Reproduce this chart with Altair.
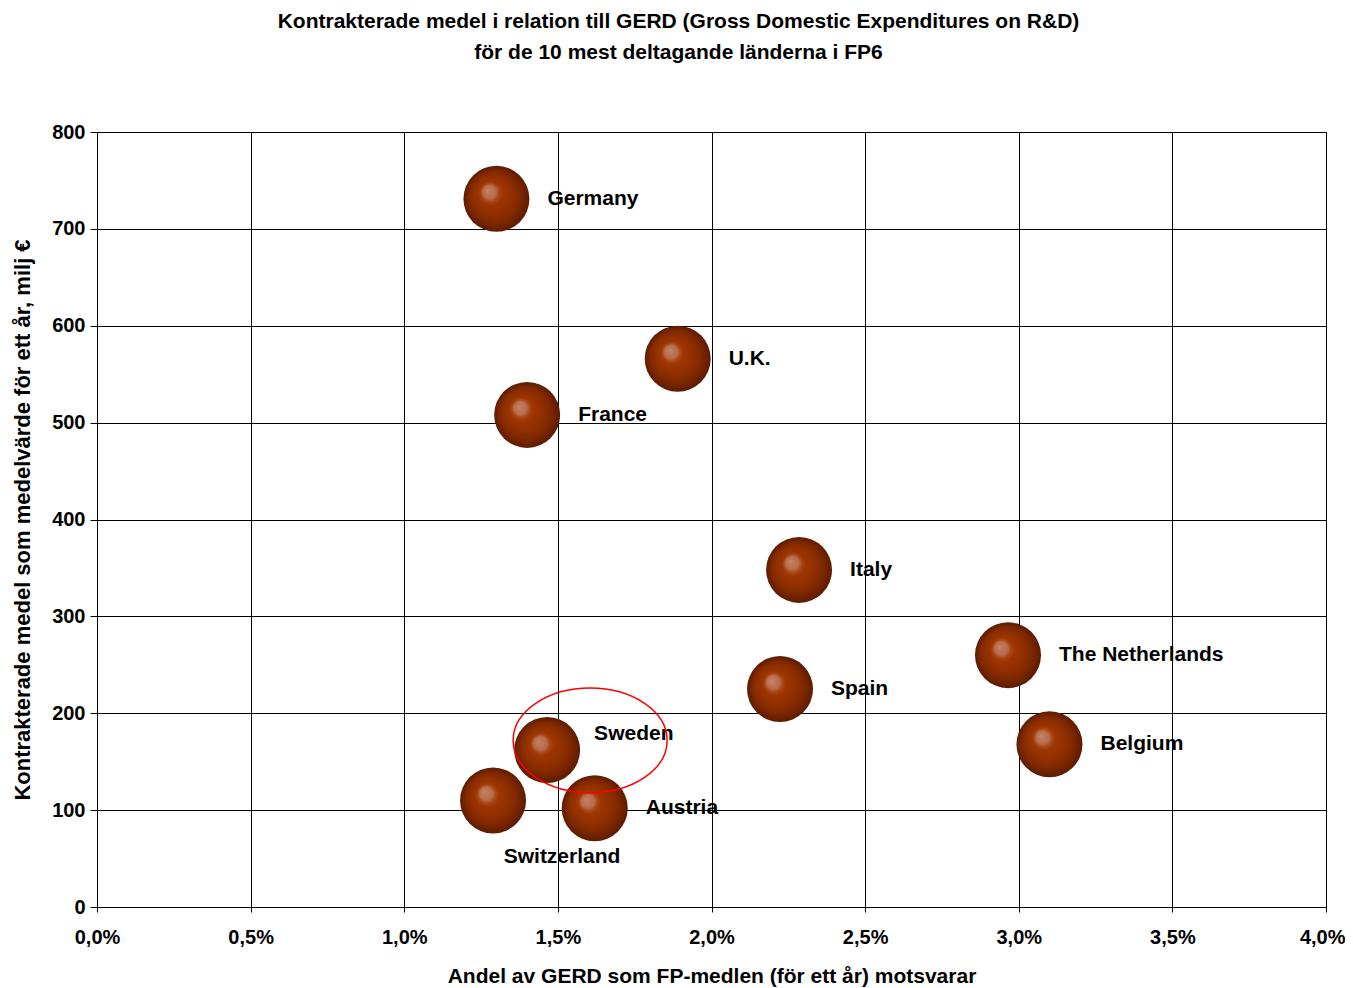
import altair as alt
import pandas as pd

countries = ["Germany", "U.K.", "France", "Italy", "The Netherlands", "Spain",
             "Belgium", "Sweden", "Switzerland", "Austria"]
gerd_share = [1.30, 1.89, 1.40, 2.285, 2.965, 2.223, 3.10, 1.465, 1.289, 1.62]
funds = [731, 566, 508, 348, 260, 225, 168, 162, 110, 102]

x_ticks = [0, 0.5, 1.0, 1.5, 2.0, 2.5, 3.0, 3.5, 4.0]
y_ticks = [0, 100, 200, 300, 400, 500, 600, 700, 800]

highlight_x = [1.605]
highlight_y = [172]

df = pd.DataFrame({"country": countries, "share": gerd_share, "funds": funds})
hl = pd.DataFrame({"share": highlight_x, "funds": highlight_y})

FONT = "Liberation Sans"

x_enc = alt.X("share:Q", scale=alt.Scale(domain=[0, 4], nice=False, zero=True),
              axis=alt.Axis(values=x_ticks,
                            labelExpr="replace(format(datum.value, '.1f'), '.', ',') + '%'",
                            labelAlign=alt.expr("datum.value >= 4 ? 'right' : 'center'"),
                            labelOffset=alt.expr("datum.value >= 4 ? 19 : 0"),
                            title="Andel av GERD som FP-medlen (för ett år) motsvarar",
                            grid=True, gridColor="black", gridOpacity=1, gridWidth=1,
                            domainColor="black", tickColor="black", tickSize=5,
                            labelPadding=15, titlePadding=18, labelFlush=False,
                            labelFont=FONT, labelFontSize=20, labelFontWeight="bold",
                            labelColor="black",
                            titleFont=FONT, titleFontSize=21, titleFontWeight="bold",
                            titleColor="black"))
y_enc = alt.Y("funds:Q", scale=alt.Scale(domain=[0, 800], nice=False),
              axis=alt.Axis(values=y_ticks,
                            title="Kontrakterade medel som medelvärde för ett år, milj €",
                            grid=True, gridColor="black", gridOpacity=1, gridWidth=1,
                            domainColor="black", tickColor="black", tickSize=7,
                            labelPadding=5, titlePadding=17, labelFlush=False,
                            labelFont=FONT, labelFontSize=20, labelFontWeight="bold",
                            labelColor="black",
                            titleFont=FONT, titleFontSize=22, titleFontWeight="bold",
                            titleColor="black"))

grad = alt.RadialGradient(
    gradient="radial",
    x1=0.37, y1=0.37, r1=0.0,
    x2=0.5, y2=0.5, r2=0.5,
    stops=[
        alt.GradientStop(offset=0.0, color="#c38468"),
        alt.GradientStop(offset=0.2, color="#b86c4a"),
        alt.GradientStop(offset=0.27, color="#a9481a"),
        alt.GradientStop(offset=0.36, color="#9c3500"),
        alt.GradientStop(offset=0.55, color="#933000"),
        alt.GradientStop(offset=0.75, color="#822900"),
        alt.GradientStop(offset=0.9, color="#6c2100"),
        alt.GradientStop(offset=1.0, color="#5c1c00"),
    ],
)

base = alt.Chart(df)

bubbles = base.mark_circle(size=4356, opacity=1, fill=grad).encode(
    x=x_enc, y=y_enc
)

text_props = dict(font=FONT, fontSize=21, fontWeight="bold", color="black",
                  baseline="middle")

labels_main = base.transform_filter(
    "datum.country != 'Sweden' && datum.country != 'Switzerland'"
).mark_text(align="left", dx=51, dy=0, **text_props).encode(
    x="share:Q", y="funds:Q", text="country:N"
)
labels_sweden = base.transform_filter("datum.country == 'Sweden'").mark_text(
    align="left", dx=47, dy=-16, **text_props
).encode(x="share:Q", y="funds:Q", text="country:N")
labels_swiss = base.transform_filter("datum.country == 'Switzerland'").mark_text(
    align="center", dx=69, dy=57, **text_props
).encode(x="share:Q", y="funds:Q", text="country:N")

a = 0.68
k = 0.5523
ellipse_path = (
    f"M 1 0 C 1 {k*a:.4f} {k:.4f} {a} 0 {a} "
    f"C {-k:.4f} {a} -1 {k*a:.4f} -1 0 "
    f"C -1 {-k*a:.4f} {-k:.4f} {-a} 0 {-a} "
    f"C {k:.4f} {-a} 1 {-k*a:.4f} 1 0 Z"
)
ellipse = alt.Chart(hl).mark_point(
    shape=ellipse_path, size=154 * 154, filled=False, stroke="#ff0000",
    strokeWidth=1.5, opacity=1
).encode(x="share:Q", y="funds:Q")

chart = alt.layer(bubbles, labels_main, labels_sweden, labels_swiss, ellipse).properties(
    width=1229, height=775,
    title=alt.TitleParams(
        text=["Kontrakterade medel i relation till GERD (Gross Domestic Expenditures on R&D)",
              "för de 10 mest deltagande länderna i FP6"],
        font=FONT, fontSize=21, fontWeight="bold", color="black",
        anchor="middle", frame="group", dx=-33, offset=59, lineHeight=31,
    ),
    autosize=alt.AutoSizeParams(type="none"),
    padding={"left": 89, "top": 124, "right": 19, "bottom": 80},
).configure_view(stroke="black", strokeWidth=1).configure(background="white")

chart.save("out.html", embed_options={"renderer": "svg", "actions": False})
